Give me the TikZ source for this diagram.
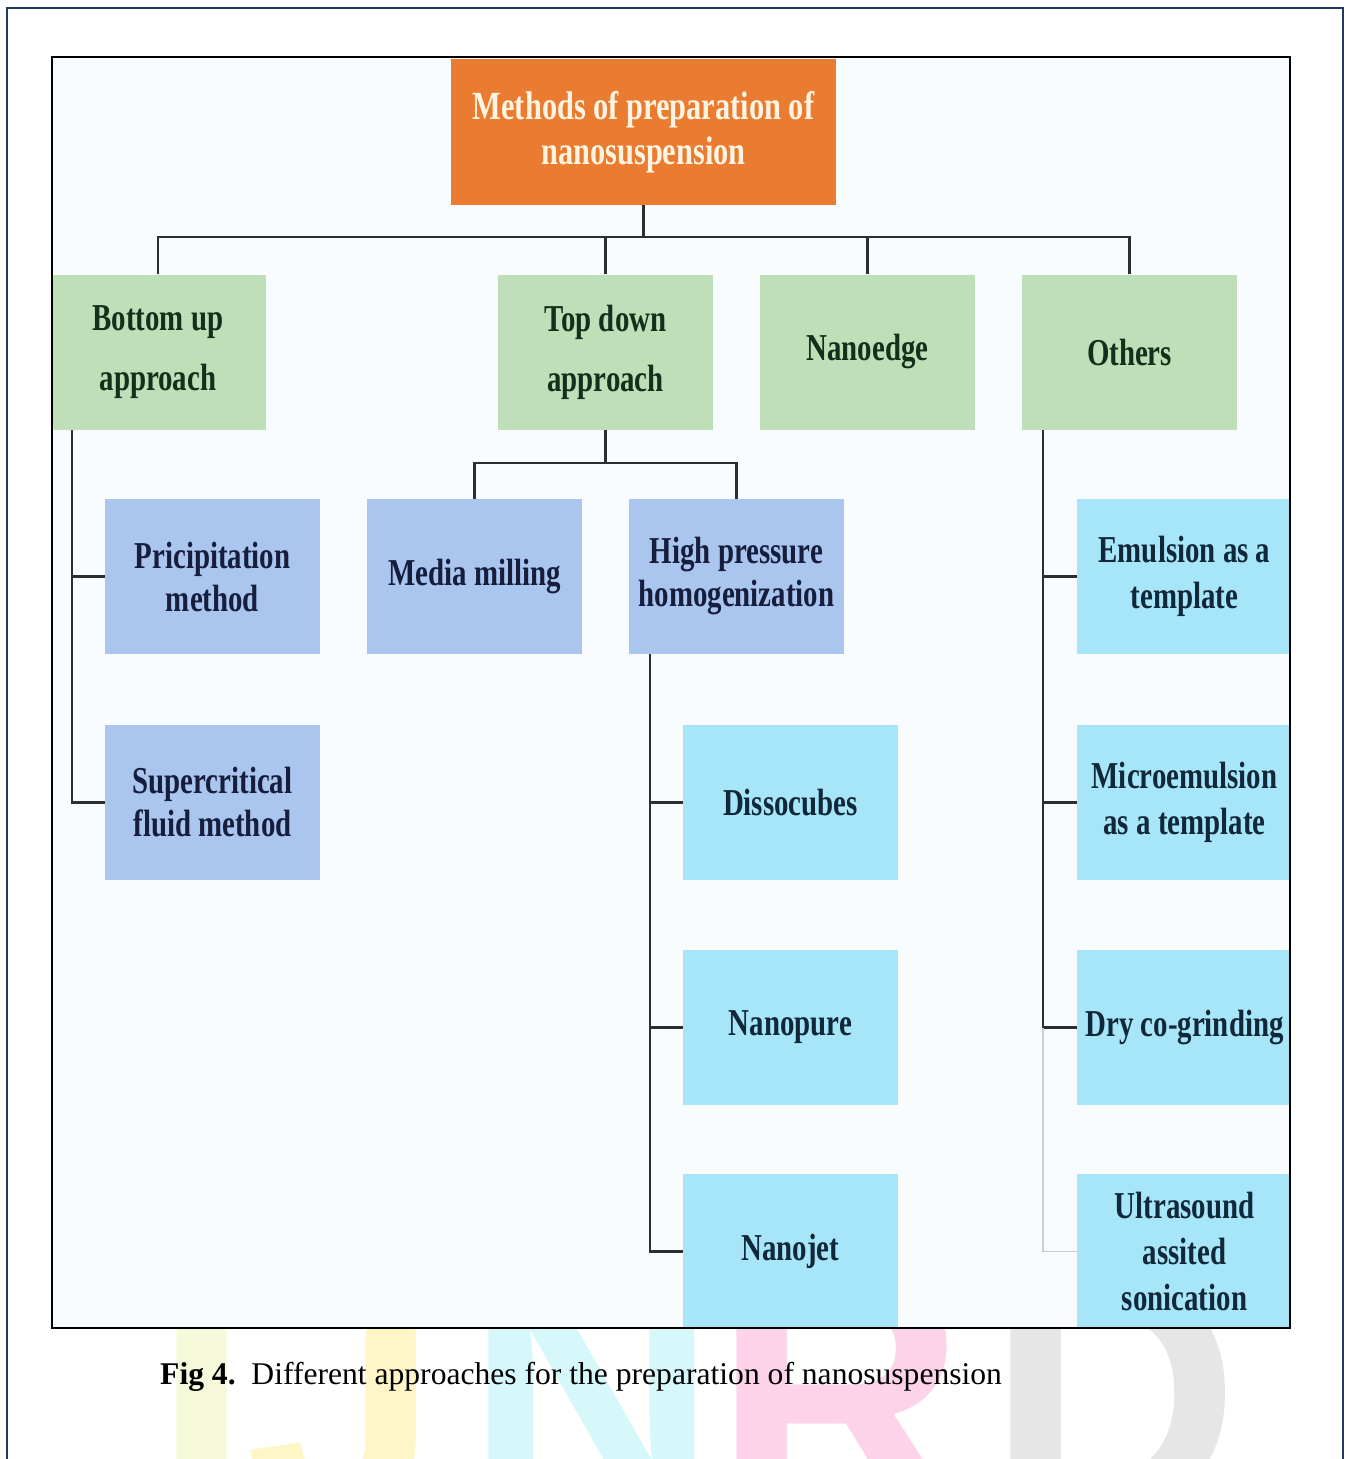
\documentclass[tikz,border=0pt]{standalone}
\usepackage{fontspec}
\setmainfont{Liberation Serif}
\newfontfamily\boxfont[FakeStretch=0.76]{Liberation Serif}
\newfontfamily\markfont{Liberation Sans}
\usetikzlibrary{positioning,calc}
\definecolor{navy}{HTML}{1F3A63}
\definecolor{framebg}{HTML}{F8FCFE}
\definecolor{rootfill}{HTML}{E97C31}
\definecolor{roottxt}{HTML}{FFF4E2}
\definecolor{grnbox}{HTML}{BFDFB9}
\definecolor{grntxt}{HTML}{13301B}
\definecolor{blubox}{HTML}{AAC5EE}
\definecolor{blutxt}{HTML}{161E3E}
\definecolor{cyabox}{HTML}{A7E6F8}
\definecolor{cyatxt}{HTML}{10283A}
\definecolor{linkgray}{HTML}{2E2E2E}
\definecolor{faintgray}{HTML}{C8CED6}
\definecolor{wmi}{HTML}{F6FADA}
\definecolor{wmj}{HTML}{FFF6C8}
\definecolor{wmn}{HTML}{D6F8FB}
\definecolor{wmr}{HTML}{FCD3E8}
\definecolor{wmd}{HTML}{E6E6E6}

\begin{document}
\begin{tikzpicture}[x=1pt,y=-1pt,
 box/.style={inner sep=0pt,minimum width=215pt,minimum height=155pt,align=center},
 rootbox/.style={box,minimum width=385pt,minimum height=146pt,fill=rootfill,text=roottxt,font=\boxfont\bfseries\fontsize{40}{45}\selectfont},
 lvlone/.style={box,fill=grnbox,text=grntxt,font=\boxfont\bfseries\fontsize{38}{60}\selectfont},
 lvltwo/.style={box,fill=blubox,text=blutxt,font=\boxfont\bfseries\fontsize{38}{43}\selectfont},
 lvlthree/.style={box,fill=cyabox,text=cyatxt,font=\boxfont\bfseries\fontsize{38}{46}\selectfont},
 link/.style={draw=linkgray,line width=2.6pt}]
 \useasboundingbox (0,0) rectangle (1346,1459);
 \fill[white] (0,0) rectangle (1346,1459);
 \begin{scope}
  \clip (0,0) rectangle (1346,1459);
  \foreach \l/\x/\c in {I/202/wmi,J/343/wmj,N/592/wmn,R/840/wmr,D/1114/wmd}
   \node[anchor=base,inner sep=0pt,text=\c,font=\markfont\bfseries\fontsize{350}{350}\selectfont] (wm\l) at (\x,1515) {\l};
 \end{scope}
 \draw[navy,line width=2.5pt] (7,1459) -- (7,8) -- (1343,8) -- (1343,1459);
 \draw[black,line width=2pt,fill=framebg] (52,57) rectangle (1290,1328);
 \begin{scope}
  \clip (52,57) rectangle (1290,1328);
  \node[rootbox] (root) at (643.5,132) {Methods of preparation of\\nanosuspension};
  \foreach \n/\x/\t in {bu/158/{Bottom up\\approach},td/605.5/{Top down\\approach},ne/867.5/Nanoedge,ot/1129.5/Others}
   \node[lvlone] (\n) at (\x,352) {\t};
  \node[lvltwo] (pm) at (212.5,576.5) {Pricipitation\\method};
  \node[lvltwo] (sf) at (212.5,802.5) {Supercritical\\fluid method};
  \node[lvltwo] (mm) at (474.5,576.5) {Media milling};
  \node[lvltwo] (hp) at (736.5,576.5) {High pressure\\homogenization};
  \foreach \n/\y/\t in {dc/802.5/Dissocubes,np/1027.5/Nanopure,nj/1251.5/Nanojet}
   \node[lvlthree] (\n) at (790.5,\y) {\t};
  \foreach \n/\y/\t in {em/576.5/{Emulsion as a\\template},me/802.5/{Microemulsion\\as a template},dg/1027.5/Dry co-grinding,us/1251.5/{Ultrasound\\assited\\sonication}}
   \node[lvlthree] (\n) at (1184.5,\y) {\t};
  \coordinate (bus) at (643.5,237);
  \draw[link] (root.south) -- (bus);
  \foreach \n in {bu,td,ne,ot}
   \draw[link] (\n.north) |- (bus);
  \coordinate (tdbus) at (605.5,463);
  \draw[link] (td.south) -- (tdbus);
  \foreach \n in {mm,hp}
   \draw[link] (\n.north) |- (tdbus);
  \coordinate (bul) at (72,430);
  \foreach \n in {pm,sf}
   \draw[link] (bul) |- (\n.west);
  \coordinate (hpl) at (650,654);
  \foreach \n in {dc,np,nj}
   \draw[link] (hpl) |- (\n.west);
  \coordinate (otl) at (1043,430);
  \foreach \n in {em,me,dg}
   \draw[link] (otl) |- (\n.west);
  \draw[link,draw=faintgray,line width=1.6pt] (otl |- dg.west) |- (us.west);
 \end{scope}
 \draw[black,line width=2pt] (52,57) rectangle (1290,1328);
 \node[anchor=base west,inner sep=0pt,font=\fontsize{31.6}{36}\selectfont] (caption) at (160,1384) {\textbf{Fig 4.}\hspace{0.5em}Different approaches for the preparation of nanosuspension};
\end{tikzpicture}
\end{document}
